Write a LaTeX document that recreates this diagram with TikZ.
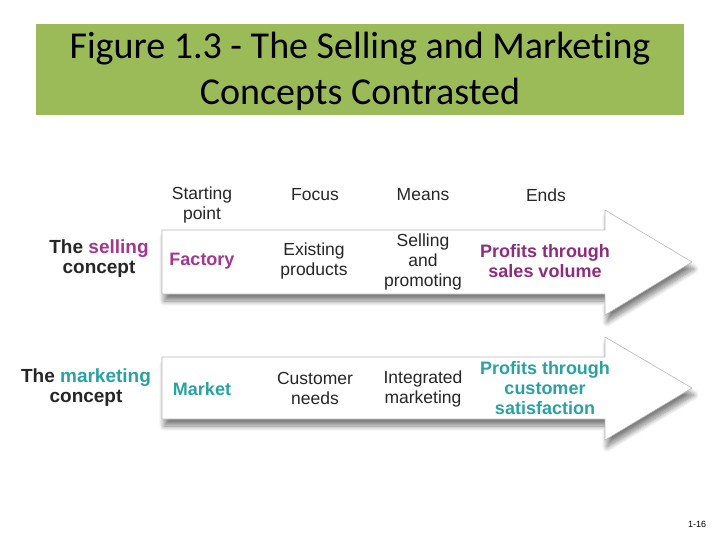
\documentclass[tikz,border=0pt]{standalone}
\usepackage{fontspec}
\setmainfont{Liberation Sans}
\newfontfamily\titlefont[Ligatures=NoCommon]{Carlito}
\usetikzlibrary{shadows.blur}
\definecolor{titlegreen}{HTML}{9BBB59}
\definecolor{sellpink}{HTML}{A3368F}
\definecolor{sellpurple}{HTML}{8E2C80}
\definecolor{markteal}{HTML}{29A2A3}
\tikzset{
  bigarrow/.style={fill=white,draw=gray!55,line width=0.6pt,
    blur shadow={shadow xshift=2pt,shadow yshift=-7pt,shadow blur radius=5pt,
      shadow blur steps=10,shadow opacity=50}},
  txt/.style={align=center,font=\fontsize{17.5}{20}\selectfont,text=black!85},
  bold/.style={txt,font=\fontsize{18}{20}\selectfont\bfseries}
}
\begin{document}
\begin{tikzpicture}[x=1pt,y=-1pt]
  \useasboundingbox (0,0) rectangle (720,540);
  % title bar
  \fill[titlegreen] (36,24) rectangle (684,115);
  \node[align=center,font=\titlefont\fontsize{38}{46}\selectfont] (title) at (360,71)
       {Figure 1.3 - The Selling and Marketing\\Concepts Contrasted};
  % the two arrows
  \draw[bigarrow] (162,230) -- (605,230) -- (605,210) -- (692,262) -- (605,315)
        -- (605,294) -- (162,294) -- cycle;
  \draw[bigarrow] (162,357) -- (605,357) -- (605,337) -- (692,388) -- (605,440)
        -- (605,419) -- (162,419) -- cycle;
  % column heads
  \node[txt] (start) at (202,205) {Starting\\point};
  \node[txt] (focus) at (315,195) {Focus};
  \node[txt] (means) at (423,195) {Means};
  \node[txt] (ends) at (546,195) {Ends};
  % selling concept
  \node[bold,font=\fontsize{19}{20}\selectfont\bfseries] (selling) at (99,259)
       {The \textcolor{sellpink}{selling}\\concept};
  \node[bold,text=sellpink] (factory) at (202,261) {Factory};
  \node[txt] (existing) at (314,261) {Existing\\products};
  \node[txt] (promoting) at (423,262) {Selling\\and\\promoting};
  \node[bold,text=sellpurple] (volume) at (545,261) {Profits through\\sales volume};
  % marketing concept
  \node[bold,font=\fontsize{19}{20}\selectfont\bfseries] (marketing) at (86,388)
       {The \textcolor{markteal}{marketing}\\concept};
  \node[bold,text=markteal] (market) at (202,389) {Market};
  \node[txt] (needs) at (315,388) {Customer\\needs};
  \node[txt] (integrated) at (423,389) {Integrated\\marketing};
  \node[bold,text=markteal] (satisfaction) at (545,388) {Profits through\\customer\\satisfaction};
  % slide number
  \node[font=\fontsize{9}{10}\selectfont] (slideno) at (697,524) {1-16};
\end{tikzpicture}
\end{document}
